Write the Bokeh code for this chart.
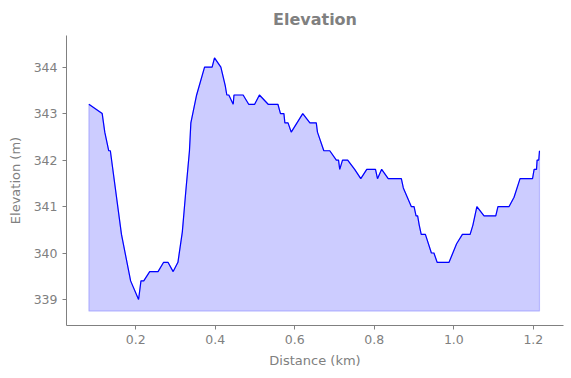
from bokeh.plotting import figure
from bokeh.models import FixedTicker, Range1d
from bokeh.embed import file_html
from bokeh.resources import INLINE

# Distance along the track (km) and elevation (m)
distance_km = [0.082, 0.1155, 0.122, 0.132, 0.136, 0.164, 0.187, 0.207, 0.213, 0.220,
               0.235, 0.256, 0.270, 0.281, 0.294, 0.306, 0.317, 0.326, 0.335, 0.3385,
               0.353, 0.373, 0.392, 0.398, 0.414, 0.425, 0.429, 0.434, 0.445, 0.447,
               0.470, 0.484, 0.499, 0.511, 0.533, 0.5575, 0.564, 0.5726, 0.575, 0.583,
               0.591, 0.620, 0.638, 0.654, 0.657, 0.673, 0.688, 0.7045, 0.710, 0.713,
               0.720, 0.733, 0.7506, 0.766, 0.781, 0.803, 0.808, 0.8185, 0.835, 0.868,
               0.873, 0.893, 0.900, 0.905, 0.909, 0.913, 0.918, 0.9285, 0.9436, 0.950,
               0.958, 0.988, 1.007, 1.0216, 1.041, 1.048, 1.058, 1.076, 1.1055, 1.111,
               1.139, 1.1515, 1.1666, 1.198, 1.202, 1.208, 1.2095, 1.2137, 1.2155]
elevation_m = [343.2, 343.0, 342.6, 342.2, 342.2, 340.4, 339.4, 339.0, 339.4, 339.4,
               339.6, 339.6, 339.8, 339.8, 339.6, 339.8, 340.45, 341.35, 342.2, 342.8,
               343.4, 344.0, 344.0, 344.2, 344.0, 343.6, 343.4, 343.4, 343.2, 343.4,
               343.4, 343.2, 343.2, 343.4, 343.2, 343.2, 343.0, 343.0, 342.8, 342.8,
               342.6, 343.0, 342.8, 342.8, 342.6, 342.2, 342.2, 342.0, 342.0, 341.8,
               342.0, 342.0, 341.8, 341.6, 341.8, 341.8, 341.6, 341.8, 341.6, 341.6,
               341.4, 341.0, 341.0, 340.8, 340.8, 340.6, 340.4, 340.4, 340.0, 340.0,
               339.8, 339.8, 340.2, 340.4, 340.4, 340.6, 341.0, 340.8, 340.8, 341.0,
               341.0, 341.2, 341.6, 341.6, 341.8, 341.8, 342.0, 342.0, 342.2]
fill_base_m = 338.75

x_ticks = [0.2, 0.4, 0.6, 0.8, 1.0, 1.2]
x_tick_labels = ["0.2", "0.4", "0.6", "0.8", "1.0", "1.2"]
y_ticks = [339, 340, 341, 342, 343, 344]
y_tick_labels = ["339", "340", "341", "342", "343", "344"]

GRAY = "#808080"
FONT = "DejaVu Sans"

p = figure(width=571, height=378, output_backend="svg", toolbar_location=None,
           x_range=Range1d(0.0257, 1.2759), y_range=Range1d(338.44, 344.68),
           min_border_left=66, min_border_right=8, min_border_top=35, min_border_bottom=53,
           title="Elevation")
p.background_fill_color = "white"
p.border_fill_color = "white"
p.outline_line_color = None
p.grid.visible = False

p.title.align = "center"
p.title.text_font = FONT
p.title.text_font_size = "16px"
p.title.text_font_style = "bold"
p.title.text_color = GRAY
p.title.standoff = 13

# filled area
poly_x = distance_km + [distance_km[-1], distance_km[0]]
poly_y = elevation_m + [fill_base_m, fill_base_m]
p.patch(poly_x, poly_y, fill_color="blue", fill_alpha=0.2,
        line_color="blue", line_alpha=0.2, line_width=1.2)
p.line(distance_km, elevation_m, line_color="blue", line_width=1.2)

for ax, ticks, labels in ((p.xaxis[0], x_ticks, x_tick_labels),
                          (p.yaxis[0], y_ticks, y_tick_labels)):
    ax.ticker = FixedTicker(ticks=ticks)
    ax.major_label_overrides = {t: l for t, l in zip(ticks, labels)}
    ax.axis_line_color = GRAY
    ax.axis_line_width = 1
    ax.major_tick_line_color = GRAY
    ax.major_tick_in = 0
    ax.major_tick_out = 4
    ax.minor_tick_line_color = None
    ax.major_label_text_color = GRAY
    ax.major_label_text_font = FONT
    ax.major_label_text_font_size = "12.5px"
    ax.axis_label_text_color = GRAY
    ax.axis_label_text_font = FONT
    ax.axis_label_text_font_size = "13px"
    ax.axis_label_text_font_style = "normal"
    ax.major_label_standoff = 5

p.xaxis.axis_label = "Distance (km)"
p.yaxis.axis_label = "Elevation (m)"
p.xaxis.axis_label_standoff = 6
p.yaxis.axis_label_standoff = 8

open("out.html", "w").write(file_html(p, INLINE))
